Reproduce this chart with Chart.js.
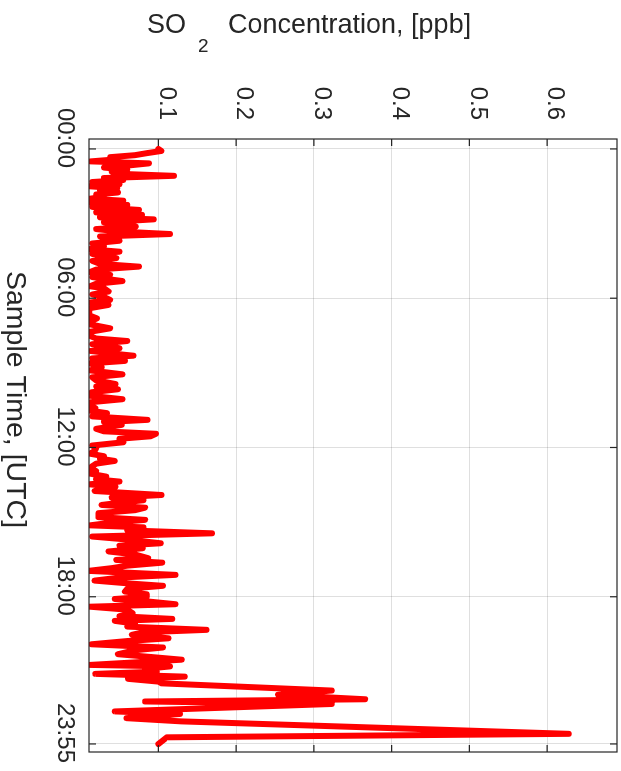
<!DOCTYPE html>
<html><head><meta charset="utf-8">
<script src="https://cdn.jsdelivr.net/npm/chart.js@4/dist/chart.umd.min.js"></script>
<style>
html,body{margin:0;padding:0;background:#fff;overflow:hidden;width:621px;height:771px;}
#wrap{position:absolute;left:0;top:0;width:771px;height:621px;transform-origin:0 0;transform:translate(621px,0) rotate(90deg);}
canvas{display:block;}
</style></head><body>
<div id="wrap"><canvas id="c" width="771" height="621"></canvas></div>
<script>
// sample time in hours (UTC)
const sampleHours = [
0.00,0.08,0.17,0.25,0.33,0.42,0.50,0.58,0.67,0.75,0.83,0.92,1.00,1.08,1.17,1.25,1.33,1.42,1.50,1.58,1.67,1.75,1.83,1.92,2.00,2.08,2.17,2.25,2.33,2.45,
2.55,2.65,2.75,2.83,2.95,3.05,3.12,3.22,3.32,3.42,3.52,3.62,3.69,3.80,3.92,4.03,4.13,4.22,4.30,4.39,4.50,4.62,4.73,4.85,4.95,5.06,5.15,5.31,5.42,5.52,5.60,
5.73,5.85,5.95,6.07,6.17,6.27,6.40,6.55,6.70,6.81,6.95,7.05,7.21,7.35,7.50,7.62,7.72,7.85,8.01,8.12,8.22,8.31,8.42,8.52,
8.62,8.78,8.90,9.06,9.18,9.30,9.45,9.55,9.66,9.78,9.92,10.06,10.18,10.30,10.42,10.52,10.62,10.75,10.89,10.98,11.09,11.25,11.35,11.45,
11.55,11.65,11.79,11.92,12.03,12.14,12.25,12.35,12.45,12.54,12.65,12.75,12.83,12.95,13.05,13.17,13.28,13.37,13.48,13.58,13.68,13.75,13.91,14.02,14.12,14.22,14.31,14.42,14.52,14.64,
14.80,14.91,15.02,15.13,15.21,15.33,15.45,15.58,15.70,15.85,15.95,16.05,16.18,16.30,16.45,16.52,16.63,16.75,16.85,16.96,17.12,17.23,17.35,17.46,17.56,
17.68,17.79,17.90,18.00,18.09,18.20,18.30,18.40,18.52,18.66,18.78,18.89,18.97,19.08,19.20,19.33,19.43,19.53,19.67,19.78,19.91,20.04,20.15,20.31,20.42,20.53,
20.62,20.74,20.80,20.90,21.01,21.10,21.21,21.30,21.41,21.48,21.77,21.94,22.12,22.21,22.31,22.61,22.71,22.88,23.01,23.51,23.65,23.92
];
// SO2 concentration in ppb
const so2Ppb = [
0.100,0.104,0.085,0.070,0.038,0.045,0.013,0.088,0.060,0.030,0.060,0.040,0.050,0.120,0.030,0.055,0.015,0.050,0.011,0.047,0.025,0.048,0.020,0.030,0.012,0.055,0.014,0.060,0.015,0.075,
0.020,0.079,0.025,0.094,0.030,0.060,0.071,0.020,0.050,0.115,0.025,0.040,0.050,0.015,0.030,0.011,0.050,0.015,0.030,0.046,0.015,0.025,0.075,0.020,0.012,0.038,0.015,0.054,0.020,0.012,0.030,
0.036,0.015,0.030,0.038,0.013,0.036,0.012,0.011,0.012,0.021,0.011,0.012,0.038,0.012,0.011,0.020,0.060,0.015,0.050,0.013,0.040,0.068,0.015,0.057,
0.012,0.027,0.012,0.054,0.015,0.020,0.045,0.020,0.048,0.014,0.012,0.054,0.013,0.011,0.019,0.012,0.034,0.015,0.086,0.030,0.053,0.020,0.030,0.097,
0.090,0.050,0.055,0.015,0.020,0.018,0.012,0.030,0.025,0.044,0.020,0.015,0.012,0.020,0.012,0.033,0.020,0.050,0.011,0.045,0.030,0.018,0.104,0.040,0.081,0.050,0.027,0.083,0.070,0.023,
0.023,0.083,0.040,0.012,0.081,0.060,0.169,0.015,0.060,0.103,0.050,0.080,0.036,0.070,0.087,0.046,0.105,0.060,0.040,0.010,0.122,0.050,0.018,0.060,0.106,
0.060,0.057,0.085,0.085,0.044,0.090,0.122,0.012,0.060,0.067,0.050,0.118,0.044,0.070,0.060,0.162,0.080,0.066,0.113,0.060,0.014,0.106,0.070,0.048,0.090,0.130,
0.080,0.012,0.115,0.083,0.098,0.019,0.134,0.061,0.100,0.104,0.323,0.254,0.366,0.083,0.323,0.044,0.128,0.059,0.130,0.628,0.111,0.100
];
const timeTickHours = [0, 6, 12, 18, 23 + 55/60];
const timeTickLabels = ['00:00', '06:00', '12:00', '18:00', '23:55'];
const concTicks = [0.1, 0.2, 0.3, 0.4, 0.5, 0.6];
const timeTitle = 'Sample Time, [UTC]';
const concTitleParts = ['SO', '2', 'Concentration, [ppb]'];

const FONT = "'Liberation Sans', Arial, Helvetica, sans-serif";
const INK = '#262626';

function noPad(s) {
  s.paddingTop = 0; s.paddingBottom = 0; s.paddingLeft = 0; s.paddingRight = 0;
}

const framePlugin = {
  id: 'frame',
  afterDatasetsDraw(chart) {
    const {ctx, chartArea: a, scales: {x, y}} = chart;
    ctx.save();
    ctx.strokeStyle = INK;
    ctx.lineWidth = 1.2;
    ctx.strokeRect(a.left, a.top, a.right - a.left, a.bottom - a.top);
    const L = 7;
    ctx.beginPath();
    timeTickHours.forEach(h => {
      const px = x.getPixelForValue(h);
      ctx.moveTo(px, a.bottom); ctx.lineTo(px, a.bottom - L);
      ctx.moveTo(px, a.top); ctx.lineTo(px, a.top + L);
    });
    concTicks.forEach(v => {
      const py = y.getPixelForValue(v);
      ctx.moveTo(a.left, py); ctx.lineTo(a.left + L, py);
      ctx.moveTo(a.right, py); ctx.lineTo(a.right - L, py);
    });
    ctx.stroke();
    ctx.restore();
  },
  afterDraw(chart) {
    const ctx = chart.ctx;
    // time axis title (horizontal in chart frame)
    ctx.save();
    ctx.fillStyle = INK;
    ctx.textBaseline = 'alphabetic';
    ctx.textAlign = 'left';
    ctx.font = '28.5px ' + FONT;
    ctx.fillText(timeTitle, 271, 613.5);
    ctx.restore();
    // concentration title, drawn upright in the page frame
    ctx.save();
    ctx.setTransform(0, -1, 1, 0, 0, 621);
    ctx.fillStyle = INK;
    ctx.textBaseline = 'alphabetic';
    ctx.textAlign = 'left';
    ctx.font = '27px ' + FONT;
    ctx.fillText(concTitleParts[0], 147, 33);
    ctx.font = '19px ' + FONT;
    ctx.fillText(concTitleParts[1], 198, 52);
    ctx.font = '27px ' + FONT;
    ctx.fillText(concTitleParts[2], 228, 33);
    ctx.restore();
  }
};

const points = sampleHours.map((h, i) => ({x: h, y: so2Ppb[i]}));

new Chart(document.getElementById('c'), {
  type: 'line',
  data: {
    datasets: [{
      data: points,
      borderColor: '#ff0000',
      backgroundColor: '#ff0000',
      borderWidth: 6,
      pointRadius: 0,
      tension: 0,
      borderJoinStyle: 'round',
      borderCapStyle: 'round',
      clip: 0
    }]
  },
  options: {
    responsive: false,
    animation: false,
    events: [],
    layout: {autoPadding: false, padding: {left: 0, right: 19, top: 4, bottom: 0}},
    plugins: {legend: {display: false}, tooltip: {enabled: false}},
    scales: {
      x: {
        type: 'linear',
        min: -0.4,
        max: 24.24,
        afterBuildTicks: s => { s.ticks = timeTickHours.map(v => ({value: v})); },
        afterFit: s => { s.height = 89; noPad(s); },
        border: {display: false},
        grid: {color: 'rgba(38,38,38,0.15)', lineWidth: 1, drawTicks: false},
        ticks: {
          autoSkip: false, maxRotation: 0, minRotation: 0, padding: 10, labelOffset: -11,
          color: INK, font: {family: FONT, size: 24},
          callback: (v, i) => timeTickLabels[i]
        }
      },
      y: {
        type: 'linear',
        min: 0.0108,
        max: 0.69,
        afterBuildTicks: s => { s.ticks = concTicks.map(v => ({value: v})); },
        afterFit: s => { s.width = 139; noPad(s); },
        border: {display: false},
        grid: {color: 'rgba(38,38,38,0.15)', lineWidth: 1, drawTicks: false},
        ticks: {
          padding: 19, labelOffset: -8, color: INK, font: {family: FONT, size: 24},
          callback: v => Number(v).toFixed(1)
        }
      }
    }
  },
  plugins: [framePlugin]
});
</script>
</body></html>
